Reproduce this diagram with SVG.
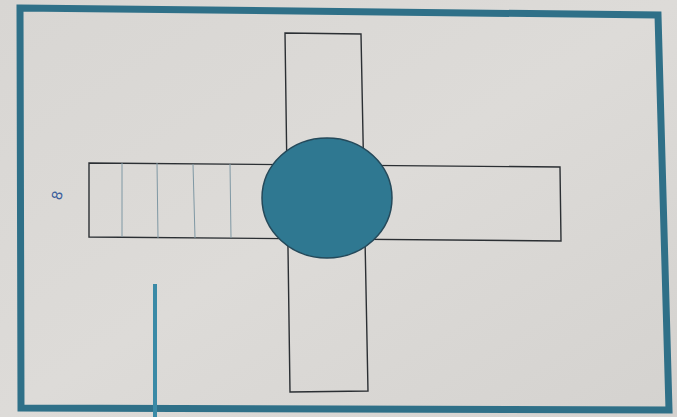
<svg xmlns="http://www.w3.org/2000/svg" width="677" height="417" viewBox="0 0 677 417">
  <style>
    .frame { fill: none; stroke: #2f7088; stroke-width: 7; }
    .arm { fill: none; stroke: #2b2f33; stroke-width: 1.4; }
    .div { stroke: #7f98a4; stroke-width: 1; }
    .hub { fill: #2f7891; stroke: #24495a; stroke-width: 1.5; }
    .post { stroke: #3a8aa6; stroke-width: 4; }
  </style>
  <defs>
    <linearGradient id="paper" x1="0" y1="0" x2="1" y2="1">
      <stop offset="0" stop-color="#d8d6d3"/>
      <stop offset="0.5" stop-color="#dddbd8"/>
      <stop offset="1" stop-color="#d4d2cf"/>
    </linearGradient>
  </defs>
  <rect x="0" y="0" width="677" height="417" fill="url(#paper)"/>
  <g id="frame">
    <polygon class="frame" points="20,8 658,15 669,410 21,408"/>
  </g>
  <g id="vertical-arm">
    <polygon class="arm" points="285,33 361,34 368,391 290,392"/>
  </g>
  <g id="horizontal-arm">
    <polygon class="arm" points="89,163 560,167 561,241 89,237"/>
    <line class="div" x1="122" y1="163" x2="122" y2="237"/>
    <line class="div" x1="157" y1="163" x2="158" y2="238"/>
    <line class="div" x1="193" y1="164" x2="195" y2="238"/>
    <line class="div" x1="230" y1="164" x2="231" y2="238"/>
  </g>
  <g id="hub">
    <ellipse class="hub" cx="327" cy="198" rx="65" ry="60"/>
  </g>
  <g id="post">
    <line class="post" x1="155" y1="284" x2="155" y2="417"/>
  </g>
  <g id="mark">
    <text x="57" y="204" font-family="DejaVu Sans, sans-serif" font-size="14" fill="#3c5f9c" transform="rotate(-75 57 200)">8</text>
  </g>
</svg>
